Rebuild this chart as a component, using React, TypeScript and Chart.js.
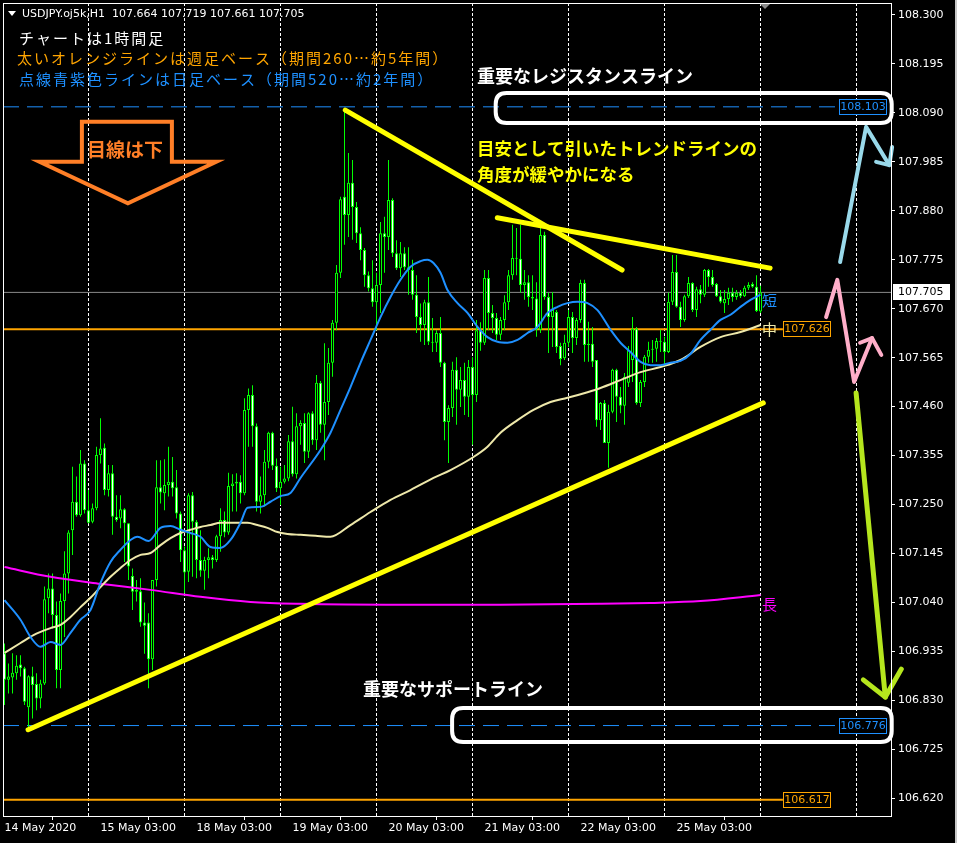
import React, { useEffect, useRef } from 'react';
import { Chart, registerables } from 'chart.js';

Chart.register(...registerables);

const W = 957;
const H = 843;

// USDJPY hourly candles, 14 May 2020 -> 26 May 2020
const opens = [
  106.931, 106.874, 106.879, 106.888, 106.907, 106.899, 106.815, 106.882, 106.865, 106.834,
  106.866, 107.049, 107.070, 107.013, 106.895, 107.043, 107.102, 107.195, 107.256, 107.227,
  107.338, 107.238, 107.213, 107.242, 107.356, 107.372, 107.281, 107.317, 107.224, 107.220,
  107.240, 107.210, 107.097, 107.063, 107.064, 106.997, 106.997, 106.918, 107.088, 107.287,
  107.274, 107.292, 107.299, 107.287, 107.231, 107.152, 107.106, 107.270, 107.213, 107.131,
  107.108, 107.131, 107.137, 107.131, 107.182, 107.217, 107.190, 107.290, 107.295, 107.299,
  107.274, 107.453, 107.485, 107.418, 107.256, 107.270, 107.342, 107.404, 107.333, 107.285,
  107.299, 107.306, 107.386, 107.315, 107.418, 107.425, 107.363, 107.446, 107.388, 107.511,
  107.421, 107.470, 107.554, 107.640, 107.747, 107.910, 107.871, 107.940, 107.888, 107.832,
  107.796, 107.742, 107.714, 107.684, 107.721, 107.832, 107.824, 107.903, 107.789, 107.757,
  107.789, 107.759, 107.753, 107.700, 107.652, 107.635, 107.684, 107.599, 107.597, 107.618,
  107.554, 107.427, 107.457, 107.539, 107.496, 107.517, 107.481, 107.545, 107.485, 107.624,
  107.597, 107.736, 107.661, 107.650, 107.614, 107.646, 107.684, 107.742, 107.779, 107.777,
  107.721, 107.727, 107.695, 107.692, 107.625, 107.828, 107.695, 107.652, 107.663, 107.590,
  107.564, 107.597, 107.652, 107.607, 107.646, 107.725, 107.592, 107.595, 107.560, 107.431,
  107.468, 107.382, 107.449, 107.539, 107.481, 107.462, 107.511, 107.560, 107.627, 107.468,
  107.513, 107.567, 107.582, 107.584, 107.601, 107.599, 107.577, 107.685, 107.749, 107.674,
  107.646, 107.697, 107.725, 107.667, 107.712, 107.700, 107.753, 107.738, 107.723, 107.697,
  107.682, 107.691, 107.704, 107.695, 107.704, 107.697, 107.715, 107.723, 107.717, 107.664,
];
const highs = [
  106.952, 106.909, 106.931, 106.927, 106.927, 106.902, 106.884, 106.902, 106.888, 106.874,
  107.074, 107.102, 107.102, 107.042, 107.059, 107.150, 107.195, 107.331, 107.310, 107.367,
  107.345, 107.281, 107.252, 107.374, 107.435, 107.381, 107.335, 107.335, 107.270, 107.270,
  107.242, 107.210, 107.113, 107.088, 107.092, 107.040, 107.017, 107.088, 107.345, 107.345,
  107.347, 107.374, 107.352, 107.324, 107.235, 107.160, 107.274, 107.277, 107.217, 107.195,
  107.138, 107.156, 107.142, 107.185, 107.242, 107.235, 107.318, 107.315, 107.317, 107.313,
  107.478, 107.499, 107.506, 107.424, 107.310, 107.367, 107.406, 107.406, 107.349, 107.331,
  107.335, 107.399, 107.460, 107.446, 107.431, 107.446, 107.448, 107.450, 107.528, 107.515,
  107.596, 107.586, 107.646, 107.764, 107.910, 108.096, 108.004, 107.989, 107.899, 107.845,
  107.800, 107.750, 107.774, 107.747, 107.856, 107.867, 107.989, 107.907, 107.817, 107.813,
  107.802, 107.802, 107.775, 107.742, 107.681, 107.689, 107.738, 107.650, 107.624, 107.652,
  107.556, 107.463, 107.556, 107.566, 107.545, 107.554, 107.560, 107.566, 107.646, 107.641,
  107.753, 107.753, 107.678, 107.661, 107.652, 107.699, 107.753, 107.850, 107.843, 107.850,
  107.753, 107.742, 107.742, 107.727, 107.843, 107.835, 107.704, 107.706, 107.667, 107.597,
  107.614, 107.667, 107.663, 107.650, 107.732, 107.732, 107.642, 107.631, 107.560, 107.470,
  107.474, 107.464, 107.541, 107.541, 107.502, 107.532, 107.590, 107.652, 107.631, 107.517,
  107.571, 107.599, 107.603, 107.607, 107.625, 107.610, 107.704, 107.785, 107.785, 107.685,
  107.700, 107.738, 107.727, 107.717, 107.721, 107.755, 107.755, 107.753, 107.725, 107.710,
  107.710, 107.715, 107.715, 107.710, 107.710, 107.719, 107.727, 107.727, 107.742, 107.719,
];
const lows = [
  106.820, 106.845, 106.845, 106.874, 106.881, 106.820, 106.773, 106.791, 106.809, 106.813,
  106.863, 107.017, 106.984, 106.856, 106.856, 106.966, 107.059, 107.142, 107.224, 107.224,
  107.231, 107.210, 107.210, 107.238, 107.338, 107.270, 107.267, 107.185, 107.213, 107.199,
  107.127, 107.088, 107.024, 107.042, 106.988, 106.930, 106.856, 106.895, 107.074, 107.252,
  107.238, 107.267, 107.267, 107.220, 107.127, 107.059, 107.084, 107.095, 107.092, 107.095,
  107.067, 107.092, 107.113, 107.127, 107.149, 107.180, 107.185, 107.235, 107.235, 107.252,
  107.270, 107.374, 107.374, 107.235, 107.231, 107.246, 107.328, 107.324, 107.277, 107.249,
  107.295, 107.300, 107.310, 107.306, 107.378, 107.339, 107.350, 107.378, 107.367, 107.404,
  107.345, 107.442, 107.524, 107.624, 107.736, 107.807, 107.824, 107.818, 107.811, 107.774,
  107.717, 107.707, 107.674, 107.624, 107.661, 107.747, 107.796, 107.781, 107.753, 107.738,
  107.753, 107.700, 107.689, 107.618, 107.599, 107.592, 107.592, 107.577, 107.577, 107.545,
  107.388, 107.339, 107.438, 107.421, 107.459, 107.442, 107.438, 107.378, 107.470, 107.580,
  107.592, 107.624, 107.618, 107.603, 107.603, 107.624, 107.667, 107.732, 107.742, 107.704,
  107.689, 107.674, 107.667, 107.610, 107.618, 107.689, 107.575, 107.588, 107.575, 107.549,
  107.560, 107.588, 107.575, 107.592, 107.640, 107.556, 107.556, 107.545, 107.417, 107.410,
  107.382, 107.329, 107.446, 107.427, 107.446, 107.421, 107.502, 107.513, 107.464, 107.459,
  107.502, 107.554, 107.554, 107.556, 107.577, 107.545, 107.575, 107.678, 107.672, 107.631,
  107.642, 107.693, 107.663, 107.652, 107.682, 107.695, 107.717, 107.717, 107.695, 107.682,
  107.661, 107.678, 107.685, 107.689, 107.693, 107.695, 107.710, 107.715, 107.663, 107.661,
];
const closes = [
  106.874, 106.881, 106.889, 106.904, 106.899, 106.827, 106.882, 106.863, 106.834, 106.866,
  107.047, 107.070, 107.013, 106.895, 107.043, 107.102, 107.190, 107.256, 107.227, 107.338,
  107.238, 107.211, 107.242, 107.356, 107.370, 107.281, 107.317, 107.224, 107.217, 107.240,
  107.210, 107.117, 107.063, 107.067, 106.997, 106.990, 106.918, 107.088, 107.287, 107.276,
  107.292, 107.299, 107.285, 107.231, 107.152, 107.104, 107.270, 107.213, 107.131, 107.108,
  107.131, 107.137, 107.131, 107.182, 107.217, 107.190, 107.290, 107.295, 107.299, 107.274,
  107.453, 107.485, 107.418, 107.256, 107.270, 107.342, 107.404, 107.333, 107.285, 107.299,
  107.306, 107.386, 107.315, 107.418, 107.425, 107.363, 107.446, 107.388, 107.511, 107.421,
  107.470, 107.554, 107.640, 107.747, 107.905, 107.871, 107.940, 107.888, 107.832, 107.796,
  107.742, 107.714, 107.684, 107.721, 107.832, 107.824, 107.903, 107.789, 107.757, 107.789,
  107.759, 107.753, 107.700, 107.652, 107.635, 107.684, 107.599, 107.597, 107.618, 107.554,
  107.427, 107.457, 107.539, 107.496, 107.517, 107.481, 107.545, 107.485, 107.624, 107.597,
  107.736, 107.661, 107.650, 107.614, 107.646, 107.684, 107.742, 107.779, 107.777, 107.721,
  107.727, 107.695, 107.692, 107.625, 107.828, 107.695, 107.652, 107.667, 107.588, 107.562,
  107.597, 107.652, 107.607, 107.646, 107.725, 107.592, 107.595, 107.556, 107.431, 107.468,
  107.382, 107.449, 107.539, 107.481, 107.462, 107.524, 107.582, 107.627, 107.468, 107.513,
  107.567, 107.582, 107.584, 107.601, 107.599, 107.577, 107.685, 107.749, 107.674, 107.646,
  107.697, 107.725, 107.667, 107.712, 107.700, 107.753, 107.738, 107.721, 107.697, 107.685,
  107.691, 107.704, 107.695, 107.704, 107.697, 107.715, 107.721, 107.717, 107.665, 107.705,
];

// Time axis: bar index of each label, and its text
const timeTickIdx = [0, 24, 48, 72, 96, 120, 144, 168];
const timeTickLabels = [
  '14 May 2020', '15 May 03:00', '18 May 03:00', '19 May 03:00',
  '20 May 03:00', '21 May 03:00', '22 May 03:00', '25 May 03:00',
];
// Period separators (vertical dotted grid), as bar indices
const gridIdx = [21, 45, 69, 93, 117, 141, 165, 189, 213];

// Price axis ticks
const priceTicks = [
  108.3, 108.195, 108.09, 107.985, 107.88, 107.775, 107.67, 107.565, 107.46,
  107.355, 107.25, 107.145, 107.04, 106.935, 106.83, 106.725, 106.62,
];

// Moving averages: [bar index, price]
const maShort: [number, number][] = [
  [0, 107.045], [4, 107.003], [6.5, 106.966], [9, 106.945], [11.5, 106.955], [14, 106.949],
  [16.5, 106.975], [19, 107.003], [21.5, 107.024], [24, 107.082], [26.5, 107.127], [29, 107.153],
  [31.5, 107.174], [33.25, 107.181], [36, 107.172], [39, 107.2], [41.5, 107.204], [44, 107.196],
  [46.5, 107.189], [49, 107.181], [51.5, 107.159], [54, 107.157], [56.5, 107.174], [59, 107.211],
  [60.75, 107.243], [64, 107.245], [66.5, 107.256], [69, 107.268], [71.5, 107.275], [74, 107.307],
  [79, 107.367], [81.5, 107.404], [84, 107.453], [86.5, 107.502], [89, 107.554], [91.5, 107.603],
  [94, 107.652], [96.5, 107.695], [99, 107.732], [101.5, 107.76], [104, 107.772], [105.75, 107.775],
  [107.25, 107.768], [109, 107.747], [110.75, 107.71], [113.25, 107.682], [115.75, 107.661],
  [118.25, 107.631], [120.75, 107.609], [123.25, 107.599], [125.75, 107.597], [128.25, 107.603],
  [130.75, 107.618], [133.25, 107.631], [135.75, 107.661], [138.25, 107.674], [140.75, 107.682],
  [143.25, 107.685], [145.75, 107.682], [148.25, 107.667], [151.5, 107.625], [154, 107.597],
  [156.5, 107.577], [159, 107.556], [161.5, 107.549], [164, 107.549], [166.5, 107.554],
  [169, 107.558], [171.5, 107.573], [174, 107.603], [176.5, 107.625], [179, 107.646],
  [181.5, 107.657], [184, 107.674], [186.5, 107.689], [189, 107.7],
];
const maMid: [number, number][] = [
  [0, 106.932], [4, 106.953], [7.25, 106.97], [11.5, 106.985], [14, 106.992], [16.5, 107.009],
  [19, 107.03], [21.5, 107.05], [24, 107.073], [26.5, 107.095], [29, 107.114], [31.5, 107.131],
  [34, 107.142], [36.5, 107.146], [39, 107.163], [41.5, 107.178], [44, 107.189], [46.5, 107.196],
  [49, 107.202], [51.5, 107.206], [54, 107.211], [60.75, 107.211], [63.25, 107.206],
  [65.75, 107.2], [68.25, 107.191], [70.75, 107.187], [74, 107.185], [77.75, 107.183],
  [81.5, 107.181], [86.5, 107.206], [91.5, 107.234], [96.5, 107.26], [101.5, 107.281],
  [107.25, 107.307], [111.5, 107.324], [117.25, 107.352], [120.75, 107.374], [124, 107.404],
  [128.25, 107.431], [132.25, 107.453], [136.5, 107.47], [140.75, 107.479], [145.75, 107.491],
  [149, 107.5], [154, 107.517], [159, 107.534], [164, 107.545], [169, 107.56], [174, 107.588],
  [179, 107.609], [184, 107.62], [189, 107.635],
];
const maLong: [number, number][] = [
  [0, 107.116], [11.5, 107.095], [24, 107.08], [36.5, 107.067], [49, 107.052], [61.5, 107.041],
  [74, 107.037], [99, 107.035], [124, 107.035], [149, 107.037], [161.5, 107.039], [174, 107.043],
  [189, 107.056],
];

// Horizontal levels
const resistanceLevel = 108.103;
const supportLevel = 106.776;
const weeklyLevels = [107.626, 106.617];
const lastPrice = 107.705;

// Trend lines: [bar index, price]
const supportTrend: [number, number][] = [[5.9, 106.767], [189.7, 107.468]];
const steepTrend: [number, number][] = [[85.2, 108.096], [154.4, 107.753]];
const gentleTrend: [number, number][] = [[123.2, 107.865], [191.4, 107.757]];

// Hand-drawn scenario arrows: [bar index, price]
const arrowUp: [number, number][] = [[208.9, 107.770], [215.4, 108.060], [221.2, 107.978]];
const arrowUpHead: [number, number][] = [[217.9, 107.985], [221.2, 107.978], [221.9, 108.017]];
const arrowMid: [number, number][] = [[205.4, 107.652], [208.2, 107.732], [212.4, 107.513], [216.9, 107.607]];
const arrowMidHead: [number, number][] = [[213.9, 107.597], [216.9, 107.607], [219.2, 107.571]];
const arrowDown: [number, number][] = [[212.9, 107.489], [220.2, 106.837]];
const arrowDownHead: [number, number][] = [[214.7, 106.874], [220.2, 106.837], [224.2, 106.897]];

// Block arrow "目線は下": outline [bar index, price]
const viewArrow: [number, number][] = [
  [19.35, 108.071], [41.85, 108.071], [41.85, 107.985], [52.93, 107.985],
  [30.85, 107.896], [8.75, 107.985], [19.35, 107.985],
];

const X_MIN = -0.375;
const X_MAX = 221.625;
const Y_MIN = 106.582;
const Y_MAX = 108.3257;

const JP = '"Noto Sans CJK JP", "Noto Sans CJK SC", sans-serif';
const UI = '"DejaVu Sans", sans-serif';

function toXY(pairs: [number, number][]) {
  return pairs.map(([x, y]) => ({ x, y }));
}

function roundRectPath(ctx: CanvasRenderingContext2D, x1: number, y1: number, x2: number, y2: number, r: number) {
  ctx.beginPath();
  ctx.moveTo(x1 + r, y1);
  ctx.lineTo(x2 - r, y1);
  ctx.quadraticCurveTo(x2, y1, x2, y1 + r);
  ctx.lineTo(x2, y2 - r);
  ctx.quadraticCurveTo(x2, y2, x2 - r, y2);
  ctx.lineTo(x1 + r, y2);
  ctx.quadraticCurveTo(x1, y2, x1, y2 - r);
  ctx.lineTo(x1, y1 + r);
  ctx.quadraticCurveTo(x1, y1, x1 + r, y1);
  ctx.closePath();
}

function valueBox(ctx: CanvasRenderingContext2D, xl: number, xr: number, yc: number, text: string, color: string) {
  const top = Math.round(yc) - 8;
  ctx.fillStyle = '#000000';
  ctx.fillRect(xl, top, xr - xl, 16);
  ctx.strokeStyle = color;
  ctx.lineWidth = 1;
  ctx.setLineDash([]);
  ctx.strokeRect(xl + 0.5, top + 0.5, xr - xl - 1, 15);
  ctx.fillStyle = color;
  ctx.font = `11px ${UI}`;
  ctx.textAlign = 'center';
  ctx.textBaseline = 'middle';
  ctx.fillText(text, (xl + xr) / 2, top + 8.5);
}

const overlayPlugin = {
  id: 'overlay',
  beforeDatasetsDraw(chart: any) {
    const { ctx, chartArea: a, scales } = chart;
    ctx.save();
    ctx.strokeStyle = '#ffffff';
    ctx.lineWidth = 1;
    ctx.setLineDash([3, 2]);
    for (const g of gridIdx) {
      const x = Math.floor(scales.x.getPixelForValue(g)) + 0.5;
      ctx.beginPath();
      ctx.moveTo(x, a.top);
      ctx.lineTo(x, a.bottom);
      ctx.stroke();
    }
    ctx.restore();
  },
  afterDatasetsDraw(chart: any) {
    const { ctx, scales } = chart;
    const px = (i: number) => scales.x.getPixelForValue(i);
    const py = (p: number) => scales.y.getPixelForValue(p);
    ctx.save();

    // level value boxes
    valueBox(ctx, Math.round(px(208.6)), Math.round(px(220.6)), py(resistanceLevel), resistanceLevel.toFixed(3), '#1E90FF');
    valueBox(ctx, Math.round(px(208.6)), Math.round(px(220.6)), py(supportLevel), supportLevel.toFixed(3), '#1E90FF');
    for (const w of weeklyLevels) {
      valueBox(ctx, Math.round(px(194.6)), Math.round(px(206.6)), py(w), w.toFixed(3), '#FFA500');
    }

    // MA end labels
    ctx.font = `15px ${JP}`;
    ctx.textAlign = 'left';
    ctx.textBaseline = 'middle';
    ctx.fillStyle = '#1E90FF';
    ctx.fillText('短', px(189.4), py(107.687));
    ctx.fillStyle = '#EEE8AA';
    ctx.fillText('中', px(189.4), py(107.625));
    ctx.fillStyle = '#FF00FF';
    ctx.fillText('長', px(189.4), py(107.037));

    // rounded highlight frames around key levels
    ctx.strokeStyle = '#ffffff';
    ctx.lineWidth = 4;
    ctx.setLineDash([]);
    roundRectPath(ctx, px(122.8), py(108.1327), px(221.8), py(108.0684), 11);
    ctx.stroke();
    roundRectPath(ctx, px(111.9), py(106.8138), px(221.8), py(106.7409), 11);
    ctx.stroke();

    // annotation texts
    ctx.textAlign = 'left';
    ctx.textBaseline = 'middle';
    ctx.fillStyle = '#ffffff';
    ctx.font = `bold 18px ${JP}`;
    ctx.fillText('重要なレジスタンスライン', px(118.1), py(108.169));
    ctx.fillText('重要なサポートライン', px(89.6), py(106.855));
    ctx.fillStyle = '#FFFF00';
    ctx.font = `bold 17.5px ${JP}`;
    ctx.fillText('目安として引いたトレンドラインの', px(118.1), py(108.015));
    ctx.fillText('角度が緩やかになる', px(118.1), py(107.959));

    // block arrow
    ctx.strokeStyle = '#FF7F27';
    ctx.lineWidth = 4;
    ctx.lineJoin = 'miter';
    ctx.beginPath();
    viewArrow.forEach(([i, p], k) => (k === 0 ? ctx.moveTo(px(i), py(p)) : ctx.lineTo(px(i), py(p))));
    ctx.closePath();
    ctx.stroke();
    ctx.fillStyle = '#FF7F27';
    ctx.font = `bold 19px ${JP}`;
    ctx.textAlign = 'center';
    ctx.fillText('目線は下', px(30.1), py(108.0105));

    // scenario arrows
    const poly = (pts: [number, number][], color: string, width: number) => {
      ctx.strokeStyle = color;
      ctx.lineWidth = width;
      ctx.lineJoin = 'round';
      ctx.lineCap = 'round';
      ctx.beginPath();
      pts.forEach(([i, p], k) => (k === 0 ? ctx.moveTo(px(i), py(p)) : ctx.lineTo(px(i), py(p))));
      ctx.stroke();
    };
    poly(arrowUp, '#99D9EA', 4);
    poly(arrowUpHead, '#99D9EA', 4);
    poly(arrowMid, '#FFAEC9', 4);
    poly(arrowMidHead, '#FFAEC9', 4);
    poly(arrowDown, '#B5E61D', 5);
    poly(arrowDownHead, '#B5E61D', 5);

    ctx.restore();
  },
  afterDraw(chart: any) {
    const { ctx, chartArea: a, scales } = chart;
    const py = (p: number) => scales.y.getPixelForValue(p);
    ctx.save();

    // chart frame
    ctx.strokeStyle = '#ffffff';
    ctx.lineWidth = 1;
    ctx.setLineDash([]);
    ctx.strokeRect(a.left + 0.5, a.top + 0.5, a.right - a.left, a.bottom - a.top);

    // last price label on the axis
    const yc = Math.round(py(lastPrice));
    ctx.fillStyle = '#ffffff';
    ctx.fillRect(a.right + 2, yc - 8, 57, 16);
    ctx.fillStyle = '#000000';
    ctx.font = `11px ${UI}`;
    ctx.textAlign = 'left';
    ctx.textBaseline = 'middle';
    ctx.fillText(lastPrice.toFixed(3), a.right + 7, yc + 0.5);

    // chart shift marker
    ctx.fillStyle = '#8c8c8c';
    const sx = Math.floor(chart.scales.x.getPixelForValue(190.3));
    ctx.beginPath();
    ctx.moveTo(sx - 5, a.top + 1);
    ctx.lineTo(sx + 5, a.top + 1);
    ctx.lineTo(sx, a.top + 6);
    ctx.closePath();
    ctx.fill();

    // header
    ctx.fillStyle = '#ffffff';
    ctx.beginPath();
    ctx.moveTo(8, 11);
    ctx.lineTo(16, 11);
    ctx.lineTo(12, 16);
    ctx.closePath();
    ctx.fill();
    ctx.font = `11px ${UI}`;
    ctx.textAlign = 'left';
    ctx.textBaseline = 'middle';
    ctx.fillText('USDJPY.oj5k,H1  107.664 107.719 107.661 107.705', 22, 14);

    (ctx as any).letterSpacing = '2px';
    ctx.font = `15px ${JP}`;
    ctx.fillStyle = '#ffffff';
    ctx.fillText('チャートは1時間足', 19, 38);
    ctx.fillStyle = '#FFA500';
    ctx.fillText('太いオレンジラインは週足ベース（期間260…約5年間）', 17, 58);
    ctx.fillStyle = '#1E90FF';
    ctx.fillText('点線青紫色ラインは日足ベース（期間520…約2年間）', 19, 79);
    (ctx as any).letterSpacing = '0px';

    // window edge
    ctx.fillStyle = '#c8c8c8';
    ctx.fillRect(W - 2, 0, 2, H);

    ctx.restore();
  },
};

export default function App() {
  const canvasRef = useRef<HTMLCanvasElement>(null);

  useEffect(() => {
    const canvas = canvasRef.current;
    if (!canvas) return;
    const idx = opens.map((_, i) => i);
    const wickData = idx.map((i) => ({ x: i, y: [lows[i], highs[i]] }));
    const bodyData = idx.map((i) => ({
      x: i,
      y: [Math.min(opens[i], closes[i]), Math.max(opens[i], closes[i])],
    }));
    const bodyFill = idx.map((i) => (closes[i] >= opens[i] ? '#000000' : '#ffffff'));

    const hline = (y: number, x1: number, x2: number, color: string, width: number, dash: number[], order: number) => ({
      type: 'line' as const,
      data: [{ x: x1, y }, { x: x2, y }],
      borderColor: color,
      borderWidth: width,
      borderDash: dash,
      pointRadius: 0,
      fill: false,
      order,
    });
    const maLine = (pts: [number, number][], color: string, order: number) => ({
      type: 'line' as const,
      data: toXY(pts),
      borderColor: color,
      borderWidth: 2,
      pointRadius: 0,
      tension: 0.35,
      cubicInterpolationMode: 'monotone' as const,
      fill: false,
      order,
    });
    const trend = (pts: [number, number][]) => ({
      type: 'line' as const,
      data: toXY(pts),
      borderColor: '#FFFF00',
      borderWidth: 5,
      borderCapStyle: 'round' as const,
      pointRadius: 0,
      fill: false,
      order: 1,
    });

    const chart = new Chart(canvas, {
      type: 'bar',
      data: {
        datasets: [
          hline(resistanceLevel, X_MIN, X_MAX, '#1E90FF', 1, [16, 8], 20),
          hline(supportLevel, X_MIN, X_MAX, '#1E90FF', 1, [16, 8], 20),
          hline(lastPrice, X_MIN, X_MAX, '#8a8a8a', 1, [], 20),
          ...weeklyLevels.map((w) => hline(w, X_MIN, 194.6, '#FFA500', 2, [], 19)),
          {
            type: 'bar' as const,
            data: wickData as any,
            backgroundColor: '#00FF00',
            borderWidth: 0,
            barThickness: 1,
            grouped: false,
            inflateAmount: 0,
            order: 12,
          },
          {
            type: 'bar' as const,
            data: bodyData as any,
            backgroundColor: bodyFill,
            borderColor: '#00FF00',
            borderWidth: 1,
            borderSkipped: false,
            barThickness: 3,
            minBarLength: 1,
            grouped: false,
            inflateAmount: 0,
            order: 11,
          },
          maLine(maLong, '#FF00FF', 6),
          maLine(maMid, '#EEE8AA', 5),
          maLine(maShort, '#1E90FF', 4),
          trend(supportTrend),
          trend(steepTrend),
          trend(gentleTrend),
        ] as any,
      },
      options: {
        responsive: false,
        animation: false,
        devicePixelRatio: 1,
        events: [],
        layout: { padding: { left: 3, top: 3, right: 0, bottom: 0 } },
        plugins: { legend: { display: false }, tooltip: { enabled: false } },
        scales: {
          x: {
            type: 'linear',
            min: X_MIN,
            max: X_MAX,
            offset: false,
            afterBuildTicks: (s: any) => {
              s.ticks = timeTickIdx.map((v) => ({ value: v }));
            },
            afterFit: (s: any) => {
              s.height = 27;
              s.paddingLeft = 0;
              s.paddingRight = 0;
            },
            ticks: {
              autoSkip: false,
              maxRotation: 0,
              minRotation: 0,
              align: 'start',
              padding: 2,
              color: '#ffffff',
              font: { family: 'DejaVu Sans', size: 11 },
              callback: (_v: any, i: number) => timeTickLabels[i] ?? '',
            },
            grid: { display: true, drawOnChartArea: false, drawTicks: true, tickLength: 4, color: '#ffffff' },
            border: { display: false },
          },
          y: {
            type: 'linear',
            position: 'right',
            min: Y_MIN,
            max: Y_MAX,
            afterBuildTicks: (s: any) => {
              s.ticks = priceTicks.map((v) => ({ value: v }));
            },
            afterFit: (s: any) => {
              s.width = 66;
              s.paddingTop = 0;
              s.paddingBottom = 0;
            },
            ticks: {
              padding: 3,
              color: '#ffffff',
              font: { family: 'DejaVu Sans', size: 11 },
              callback: (v: any) => Number(v).toFixed(3),
            },
            grid: { display: true, drawOnChartArea: false, drawTicks: true, tickLength: 4, color: '#ffffff' },
            border: { display: false },
          },
        },
      } as any,
      plugins: [overlayPlugin],
    });

    return () => chart.destroy();
  }, []);

  return (
    <div style={{ position: 'fixed', left: 0, top: 0, width: W, height: H, background: '#000000' }}>
      <canvas ref={canvasRef} width={W} height={H} style={{ display: 'block' }} />
    </div>
  );
}
